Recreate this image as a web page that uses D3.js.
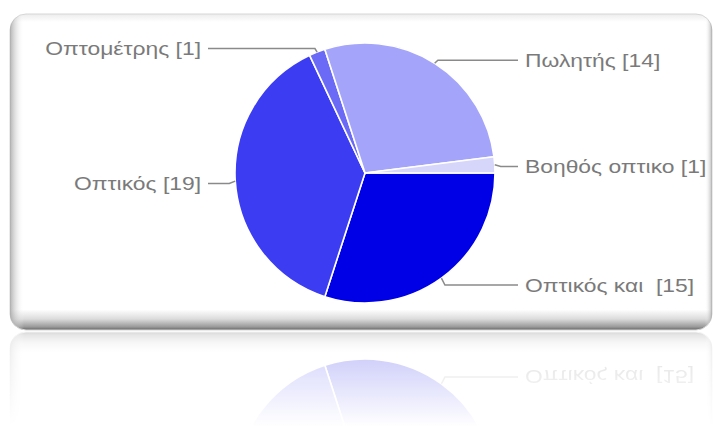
<!DOCTYPE html>
<html>
<head>
<meta charset="utf-8">
<script src="https://cdn.jsdelivr.net/npm/d3@7"></script>
<style>
  html, body { margin: 0; padding: 0; background: #ffffff; }
  svg { display: block; }
</style>
</head>
<body>
<svg id="chart" width="714" height="427"></svg>
<script>
// ---- data ----
const labels = ["Οπτικός και  [15]", "Οπτικός [19]", "Οπτομέτρης [1]", "Πωλητής [14]", "Βοηθός οπτικο [1]"];
const values = [15, 19, 1, 14, 1];
const colors = ["#0000e6", "#3c3cf2", "#6a6af6", "#a4a4fb", "#d6d6fb"];

const W = 714, H = 427;
const svg = d3.select("#chart");
const defs = svg.append("defs");

// gradients
const cg = defs.append("linearGradient").attr("id", "cardGrad")
  .attr("x1", 0).attr("y1", 0).attr("x2", 0).attr("y2", 1);
[[0, "#ececec"], [0.025, "#ffffff"], [0.935, "#ffffff"], [0.965, "#dcdcdc"], [0.99, "#9a9a9a"], [1, "#666666"]]
  .forEach(([o, c]) => cg.append("stop").attr("offset", o).attr("stop-color", c));

const sg = defs.append("linearGradient").attr("id", "sideGrad")
  .attr("x1", 0).attr("y1", 0).attr("x2", 1).attr("y2", 0);
[[0, "#9a9a9a", 0.75], [0.02, "#ffffff", 0], [0.99, "#ffffff", 0], [1, "#8a8a8a", 0.6]]
  .forEach(([o, c, op]) => sg.append("stop").attr("offset", o).attr("stop-color", c).attr("stop-opacity", op));

const fg = defs.append("linearGradient").attr("id", "fadeGrad")
  .attr("x1", 0).attr("y1", 0).attr("x2", 0).attr("y2", 1);
fg.append("stop").attr("offset", 0).attr("stop-color", "#fff").attr("stop-opacity", 0.26);
fg.append("stop").attr("offset", 1).attr("stop-color", "#fff").attr("stop-opacity", 0);

const axisY = 331;
defs.append("mask").attr("id", "fade").attr("maskUnits", "userSpaceOnUse")
  .attr("x", 0).attr("y", 0).attr("width", W).attr("height", H)
  .append("rect").attr("x", 0).attr("y", axisY).attr("width", W).attr("height", H - axisY)
  .attr("fill", "url(#fadeGrad)");

const card = { x: 10, y: 14, w: 702, h: 316, r: 16 };
defs.append("clipPath").attr("id", "cardClip")
  .append("rect").attr("x", card.x).attr("y", card.y).attr("width", card.w).attr("height", card.h)
  .attr("rx", card.r).attr("ry", card.r);

const scene = svg.append("g").attr("id", "scene");

scene.append("rect")
  .attr("x", card.x).attr("y", card.y).attr("width", card.w).attr("height", card.h)
  .attr("rx", card.r).attr("ry", card.r)
  .attr("fill", "url(#cardGrad)").attr("stroke", "#d6d6d6").attr("stroke-width", 1);
scene.append("rect")
  .attr("x", card.x).attr("y", card.y).attr("width", card.w).attr("height", card.h)
  .attr("clip-path", "url(#cardClip)")
  .attr("fill", "url(#sideGrad)");

// pie
const cx = 365, cy = 173, R = 130;
const pie = d3.pie().sort(null).value(d => d)
  .startAngle(Math.PI / 2).endAngle(Math.PI / 2 + 2 * Math.PI);
const arcs = pie(values);
const arc = d3.arc().innerRadius(0).outerRadius(R);

const pg = scene.append("g").attr("transform", `translate(${cx},${cy})`);
pg.selectAll("path.slice").data(arcs).join("path")
  .attr("class", "slice")
  .attr("d", arc)
  .attr("fill", (d, i) => colors[i])
  .attr("stroke", "#ffffff").attr("stroke-width", 1.6).attr("stroke-linejoin", "round");

// labels with leader lines
const lg = scene.append("g");
const leftX = 208, rightX = 518, gap = 7, stretch = 1.27;
arcs.forEach((d, i) => {
  const a = (d.startAngle + d.endAngle) / 2;
  const sx = cx + R * Math.sin(a), sy = cy - R * Math.cos(a);
  const ex = sx + 6 * Math.sin(a), ey = sy - 6 * Math.cos(a) + 2;
  const right = Math.sin(a) > 0;
  const lx = right ? rightX : leftX;
  lg.append("path")
    .attr("d", `M${sx},${sy}L${ex},${ey}L${lx},${ey}`)
    .attr("fill", "none").attr("stroke", "#8a8a8a").attr("stroke-width", 1.5);
  lg.append("text")
    .attr("transform", `translate(${right ? lx + gap : lx - gap},${ey}) scale(${stretch},1)`)
    .attr("dy", "0.36em")
    .attr("text-anchor", right ? "start" : "end")
    .attr("font-family", "'Liberation Sans', Arial, sans-serif")
    .attr("font-size", 18)
    .attr("fill", "#7a7a7a")
    .attr("xml:space", "preserve")
    .style("white-space", "pre")
    .text(labels[i]);
});

// reflection
svg.append("g").attr("mask", "url(#fade)")
  .append("use").attr("href", "#scene")
  .attr("transform", `translate(0,${2 * axisY}) scale(1,-1)`);
</script>
</body>
</html>
